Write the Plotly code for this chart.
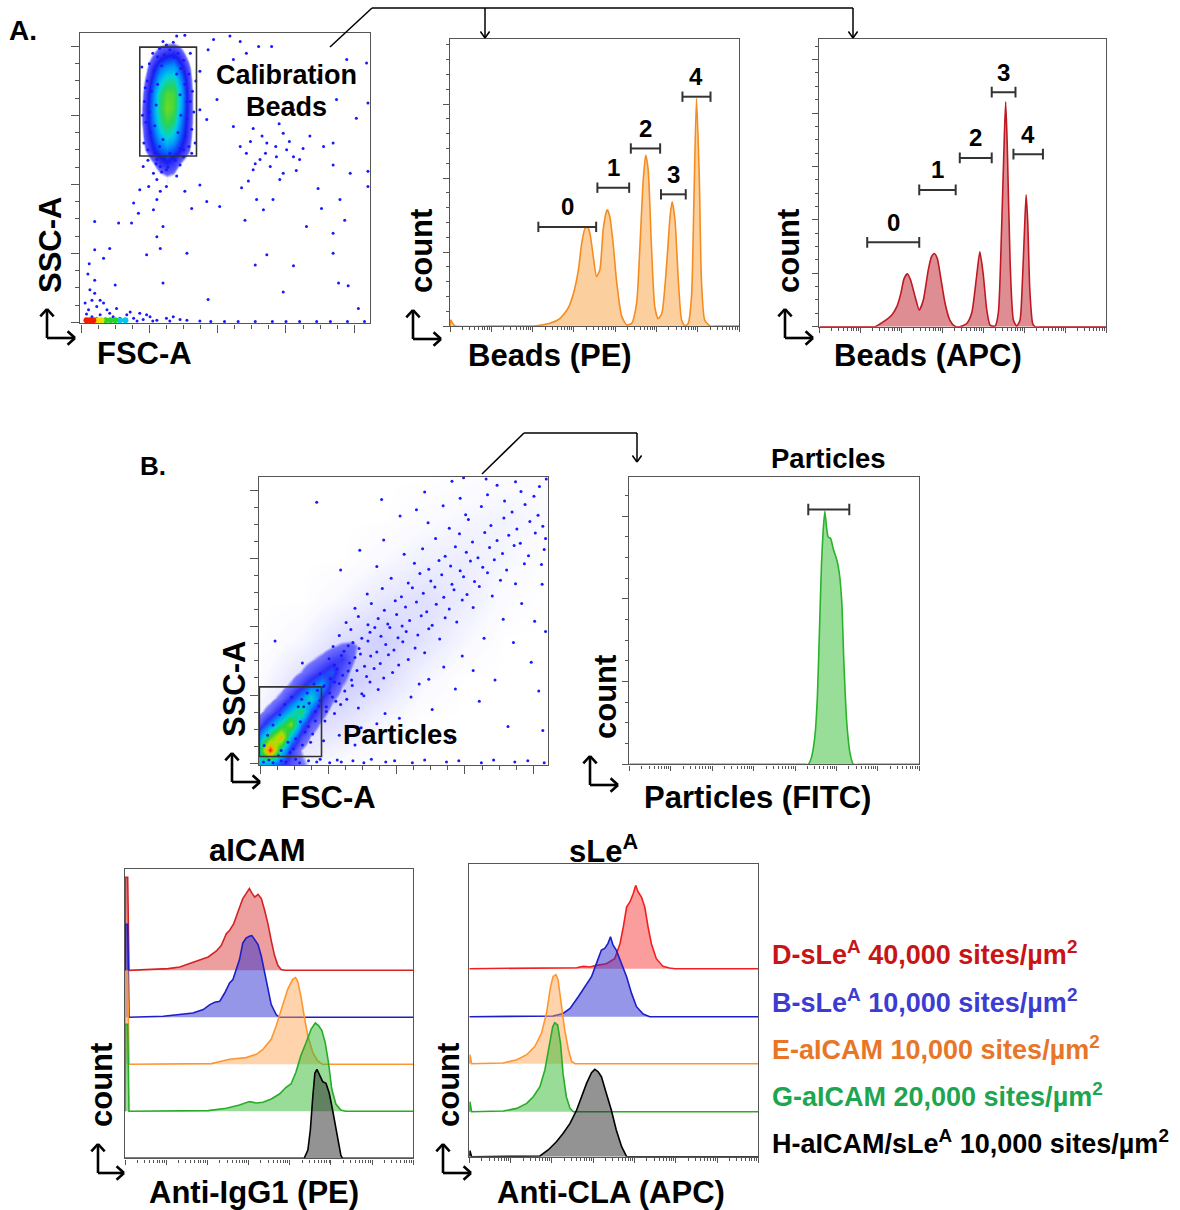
import math
import plotly.graph_objects as go

W, H = 1180, 1210
FONT = "Liberation Sans, Arial, sans-serif"

# ======================= DATA =======================
# --- Panel A dot plot: FSC-A vs SSC-A (axis units of 50K) ---
a_dots = [(1.20,4.07),(1.40,4.15),(1.52,4.16),(1.94,4.10),(2.18,4.15),(2.33,4.07),(2.60,4.00),(2.79,4.00),
          (1.86,3.95),(2.42,3.90),(2.23,3.81),(2.57,3.71),(2.03,3.66),(1.74,3.64),(3.89,3.81),(4.18,3.76),
          (4.20,3.18),(3.47,3.52),(3.74,3.23),(3.11,3.08),(4.03,2.96),(1.99,3.23),(1.74,3.08),(1.84,2.94),
          (2.23,2.84),(2.52,2.81),(2.96,2.74),(2.72,2.60),(2.33,2.55),(2.42,2.45),(3.01,2.50),(3.11,2.40),
          (3.20,2.36),(2.86,2.40),(2.62,2.36),(2.77,2.26),(2.96,2.16),(2.91,2.07),(2.52,2.21),(3.69,2.60),
          (3.55,2.55),(3.69,2.28),(3.94,2.16),(4.20,2.19),(4.20,1.97),(3.47,1.94),(3.79,1.78),(3.52,1.65),
          (2.57,1.78),(2.81,1.78),(2.67,1.63),(2.03,1.68),(1.62,1.65),(1.84,1.75),(1.52,1.90),(1.74,1.99),
          (1.25,1.97),(0.86,1.92),(0.77,1.73),(1.06,1.63),(0.84,1.58),(0.55,1.44),(0.74,1.44),(0.20,1.46),
          (1.20,1.39),(1.11,1.24),(1.55,1.00),(0.96,0.98),(1.16,1.07),(0.20,1.05),(0.42,1.07),(0.33,0.93),
          (2.40,1.48),(3.30,1.39),(3.86,1.48),(3.69,1.29),(2.72,0.98),(3.69,1.00),(3.77,0.57),(3.91,0.53),
          (3.11,0.82),(2.55,0.83),(2.96,0.44),(1.20,0.57),(0.50,0.54),(0.20,0.61),(1.86,0.33),(4.06,0.20),
          (1.11,2.36),(1.16,2.26),(1.06,2.16),(1.11,2.07),(1.16,1.90),(1.11,1.78),(1.25,2.21),(0.91,2.26),
          (1.50,2.50),(0.99,1.97),(1.35,2.40),(2.65,2.70),(2.85,2.55),(3.05,2.62),(2.48,2.62),(2.70,2.45),
          (3.25,2.52),(2.55,2.30),(3.35,2.70),(2.90,2.88),(3.15,2.20),(2.45,2.05),(2.35,1.95),
          (0.13,0.47),(0.20,0.42),(0.28,0.32),(0.23,0.23),(0.33,0.28),(0.38,0.18),(0.42,0.13),(0.52,0.20),
          (0.67,0.11),(0.86,0.13),(1.01,0.08),(1.25,0.06),(1.55,0.03),(1.74,0.02),(0.16,0.32),(0.11,0.18),
          (0.28,0.11),(0.47,0.08),(0.57,0.06),(0.77,0.06),(0.91,0.04),(1.11,0.03),(1.35,0.08),(0.23,0.06),
          (0.35,0.04),(0.16,0.08),(0.72,0.15),(0.96,0.11),(0.06,0.28),(0.08,0.12),(0.10,0.70),(0.12,0.85),
          (1.90,0.01),(2.10,0.01),(2.30,0.01),(2.55,0.01),(2.80,0.01),(3.00,0.01),(3.20,0.01),(3.45,0.01),
          (3.65,0.01),(3.90,0.01),(4.15,0.01),(0.62,0.03),(0.82,0.02),(1.05,0.02),(1.30,0.02),(1.45,0.04)]
a_blob_dots = [(0.92,2.60),(0.95,2.90),(0.93,3.20),(0.97,3.50),(1.00,3.75),(1.05,3.90),(1.15,3.97),(1.30,3.95),
               (1.42,3.90),(1.50,3.80),(1.58,3.60),(1.63,3.35),(1.65,3.05),(1.62,2.80),(1.58,2.55),(1.50,2.40),
               (1.38,2.35),(1.22,2.37),(1.08,2.45),(0.98,2.50),(1.02,2.75),(1.00,3.05),(1.03,3.35),(1.07,3.65),
               (1.12,3.85),(1.22,3.88),(1.36,3.84),(1.46,3.68),(1.52,3.45),(1.55,3.20),(1.55,2.95),(1.52,2.70),
               (1.45,2.52),(1.30,2.45),(1.15,2.55),(1.08,2.85),(1.10,3.15),(1.12,3.45),(1.18,3.72),(1.40,3.60),
               (1.45,3.30),(1.46,3.00),(1.42,2.75),(1.20,2.65),(1.68,3.50),(0.90,3.00),(1.25,4.02),(1.60,3.90),
               (1.67,2.60),(1.10,2.30),(1.27,2.25),(1.45,2.28),(0.89,3.70),(0.94,3.40),(1.60,3.20),(1.35,4.06),
               (1.18,2.18),(1.40,2.12),(0.98,2.35),(1.62,2.45)]
# bead-cluster event density (rows: SSC values, columns: FSC values)
a_den_x = [0.85, 0.95, 1.05, 1.15, 1.25, 1.35, 1.45, 1.55, 1.65, 1.75]
a_den_y = [2.1, 2.3, 2.5, 2.7, 2.9, 3.1, 3.3, 3.5, 3.7, 3.9, 4.1]
a_den_z = [[0, 0, 0, 0.3, 0.5, 0.4, 0, 0, 0, 0],
           [0, 0, 0.5, 1.0, 1.2, 1.0, 0.6, 0.2, 0, 0],
           [0, 0.6, 1.2, 1.6, 1.8, 1.6, 1.3, 0.8, 0.2, 0],
           [0, 0.9, 1.5, 2.2, 2.6, 2.3, 1.7, 1.1, 0.3, 0],
           [0.2, 1.0, 1.8, 2.7, 3.2, 2.9, 2.0, 1.2, 0.4, 0],
           [0.2, 1.0, 1.9, 2.9, 3.6, 3.3, 2.3, 1.3, 0.4, 0],
           [0.1, 0.9, 1.8, 2.8, 3.4, 3.3, 2.4, 1.3, 0.4, 0],
           [0, 0.7, 1.5, 2.3, 2.8, 2.8, 2.1, 1.2, 0.3, 0],
           [0, 0.4, 1.1, 1.7, 2.0, 2.1, 1.6, 0.9, 0.2, 0],
           [0, 0.1, 0.5, 0.9, 1.1, 1.2, 0.9, 0.4, 0, 0],
           [0, 0, 0, 0.2, 0.3, 0.3, 0.2, 0, 0, 0]]
a_deb_red = [(0.08,0.03),(0.13,0.03),(0.18,0.03)]
a_deb_yellow = [(0.24,0.03),(0.30,0.03)]
a_deb_green = [(0.36,0.03),(0.43,0.03),(0.50,0.03)]
a_deb_cyan = [(0.57,0.03),(0.65,0.03)]
a_gate_x = [0.86, 1.69]
a_gate_y = [2.41, 3.99]

# --- Panel A histograms (x: log10 fluorescence) ---
pe_u = [0, 0.02, 0.06, 0.12, 1.0, 1.9, 2.02, 2.42, 2.66, 2.86, 2.99, 3.11, 3.19, 3.27, 3.33, 3.39, 3.47, 3.55,
        3.63, 3.71, 3.79, 3.81, 3.87, 3.95, 4.04, 4.16, 4.28, 4.40, 4.52, 4.60, 4.68, 4.74, 4.80, 4.88, 4.96,
        5.04, 5.13, 5.25, 5.33, 5.38, 5.45, 5.53, 5.61, 5.69, 5.77, 5.85, 5.91, 5.97, 6.04, 6.09, 6.17, 6.30,
        6.5, 7.0]
pe_c = [0, 8, 4, 0, 0, 0, 0, 3.6, 10, 24, 44, 76, 112, 132, 134, 125, 94, 67, 76, 130, 155, 157, 148, 112, 58,
        13, 1.4, 3.6, 31, 107, 197, 231, 211, 107, 26, 10, 17, 85, 148, 168, 143, 62, 8, 0, 3.6, 40, 175, 308,
        197, 62, 8, 0, 0, 0]
pe_gate_lo = [2.14, 3.57, 4.38, 5.11, 5.63]
pe_gate_hi = [3.54, 4.34, 5.09, 5.71, 6.31]
pe_gate_y = [134, 187, 240, 178, 310]

apc_u = [0, 1.2, 1.36, 1.56, 1.77, 1.89, 1.99, 2.07, 2.15, 2.23, 2.34, 2.44, 2.54, 2.66, 2.74, 2.81, 2.88,
         2.96, 3.07, 3.19, 3.31, 3.43, 3.60, 3.72, 3.84, 3.92, 4.00, 4.09, 4.17, 4.29, 4.37, 4.45, 4.51, 4.55,
         4.59, 4.66, 4.74, 4.82, 4.90, 4.96, 5.01, 5.05, 5.09, 5.14, 5.21, 5.27, 5.5, 7.0]
apc_c = [0, 0, 0, 9, 22, 37, 62, 90, 99, 87, 56, 31, 50, 106, 131, 137, 128, 94, 44, 12, 1, 0, 6, 25, 94, 140,
         100, 31, 3, 1, 25, 181, 337, 421, 337, 119, 12, 1, 12, 87, 181, 247, 194, 69, 6, 0, 0, 0]
apc_gate_lo = [1.17, 2.44, 3.43, 4.21, 4.74]
apc_gate_hi = [2.44, 3.33, 4.21, 4.79, 5.46]
apc_gate_y = [158, 256, 316, 439, 323]
gate_names = ["0", "1", "2", "3", "4"]

# --- Panel B dot plot ---
b_dots = [(0.97,0.83),(1.06,0.97),(1.18,0.86),(1.27,0.94),(1.44,0.81),(1.52,0.99),(1.11,0.91),
          (0.93,1.12),(1.02,1.03),(1.16,1.17),(1.24,1.06),(1.35,1.14),(1.49,1.02),(1.61,1.19),(1.73,1.08),(1.09,1.19),
          (0.88,1.31),(1.03,1.24),(1.13,1.38),(1.21,1.29),(1.34,1.22),(1.42,1.36),(1.56,1.27),(1.67,1.39),
          (1.81,1.25),(1.94,1.33),(1.29,1.35),
          (1.01,1.53),(1.09,1.44),(1.19,1.58),(1.31,1.47),(1.39,1.55),(1.53,1.42),(1.62,1.57),(1.76,1.46),
          (1.88,1.59),(2.03,1.44),(2.17,1.52),(1.47,1.60),
          (1.07,1.71),(1.23,1.64),(1.36,1.77),(1.45,1.68),(1.58,1.79),(1.71,1.63),(1.84,1.74),(1.96,1.66),
          (2.09,1.78),(2.27,1.69),(2.41,1.62),(1.29,1.72),
          (1.16,1.87),(1.33,1.96),(1.49,1.83),(1.61,1.92),(1.77,1.86),(1.90,1.99),(2.02,1.84),(2.14,1.93),
          (2.31,1.88),(2.47,1.97),(2.63,1.82),(1.68,1.99),
          (1.26,2.06),(1.44,2.15),(1.58,2.03),(1.73,2.12),(1.87,2.04),(2.00,2.18),(2.19,2.09),(2.36,2.16),
          (2.52,2.02),(2.71,2.13),(2.88,2.07),(2.08,2.01),
          (1.39,2.27),(1.63,2.34),(1.82,2.24),(1.98,2.38),(2.13,2.29),(2.29,2.36),(2.44,2.22),(2.58,2.33),
          (2.77,2.26),(2.96,2.39),(3.12,2.28),
          (1.57,2.48),(1.79,2.56),(2.07,2.44),(2.23,2.57),(2.39,2.49),(2.56,2.58),(2.69,2.43),(2.84,2.54),
          (3.03,2.47),(3.21,2.59),(3.40,2.45),
          (1.92,2.71),(2.17,2.64),(2.34,2.78),(2.50,2.67),(2.66,2.76),(2.81,2.62),(2.98,2.73),(3.14,2.66),
          (3.33,2.79),(3.52,2.68),(3.74,2.63),
          (1.71,2.88),(2.26,2.93),(2.47,2.84),(2.62,2.97),(2.79,2.89),(2.93,2.82),(3.08,2.96),(3.26,2.87),
          (3.43,2.98),(3.61,2.83),(3.87,2.92),(4.12,2.91),
          (2.11,3.06),(2.38,3.14),(2.71,3.03),(2.86,3.17),(3.02,3.09),(3.19,3.01),(3.36,3.16),(3.55,3.07),
          (3.72,3.19),(3.93,3.04),(4.16,3.13),
          (1.81,3.27),(2.57,3.29),(2.92,3.36),(3.11,3.24),(3.29,3.38),(3.47,3.26),(3.64,3.34),(3.81,3.22),
          (4.03,3.37),(4.18,3.29),
          (2.46,3.52),(2.77,3.44),(3.05,3.57),(3.38,3.48),(3.57,3.59),(3.76,3.43),(3.95,3.54),(4.14,3.47),
          (2.05,3.62),(2.29,3.71),(2.68,3.77),(3.01,3.64),(3.24,3.76),(3.69,3.68),(3.88,3.79),(4.07,3.63),
          (0.83,3.82),(1.78,3.86),(2.41,3.97),(2.93,3.88),(3.33,3.93),(3.58,3.84),(3.82,3.98),(4.01,3.91),
          (2.81,4.13),(2.98,4.18),(3.31,4.16),(3.47,4.07),(3.74,4.12),(4.09,4.05),(4.19,4.16),
          (1.48,0.52),(1.83,0.73),(2.21,0.97),(2.47,1.23),(2.69,1.41),(2.96,1.57),(3.28,1.83),(3.56,2.11),
          (3.83,2.34),(4.13,2.62),(4.18,1.93),(3.97,1.48),(3.44,1.22),(3.21,0.91),(2.52,0.79),(4.08,1.06),
          (2.04,0.66),(1.71,0.58),(3.63,0.54),(4.14,0.48),(2.78,0.37),(1.39,0.27),(1.16,0.41),(0.93,0.33),
          (2.33,1.16),(2.86,1.09),(3.12,1.36),(3.71,1.77),(4.02,2.08),
          (0.22,1.79),(0.62,1.47),(1.18,2.83),(1.46,3.12),
          (0.95,0.62),(0.77,0.43),(0.97,0.76),(0.88,0.92),(0.84,1.07),(0.79,1.16),(0.69,1.03),(0.61,0.94),
          (0.56,0.83),(0.94,1.14),(1.09,0.73),(0.74,0.31),(0.62,0.27),(0.49,0.21),(0.11,0.41),(0.19,0.56),
          (0.29,0.71),(0.36,0.86),(0.46,0.97),(0.59,0.61),(0.71,0.54),(0.81,0.62),(0.06,0.26),(0.41,0.31),
          (0.52,0.36),(0.31,0.19),(0.66,0.46),(0.27,0.11),(0.44,0.16),(0.72,0.88),(0.86,0.84),(0.81,0.76),
          (0.64,0.83),
          (0.05,0.02),(0.13,0.05),(0.19,0.01),(0.31,0.04),(0.38,0.02),(0.52,0.06),(0.58,0.01),(0.71,0.04),
          (0.83,0.02),(0.88,0.06),(1.02,0.01),(1.13,0.05),(1.19,0.02),(1.36,0.04),(1.52,0.01),(1.63,0.06),
          (1.84,0.02),(1.97,0.04),(2.23,0.01),(2.41,0.05),(2.73,0.02),(2.91,0.04),(3.24,0.01),(3.42,0.05),
          (3.73,0.02),(3.92,0.04),(4.16,0.01)]
# diffuse particle-cloud density (coarse)
b_haze_x = [0, 0.6, 1.2, 1.8, 2.4, 3.0, 3.6, 4.2]
b_haze_y = [0, 0.6, 1.2, 1.8, 2.4, 3.0, 3.6, 4.2]
b_haze_z = [[0.3, 0.3, 0.1, 0, 0, 0, 0, 0],
            [0.3, 0.7, 0.5, 0.2, 0, 0, 0, 0],
            [0.1, 0.6, 0.9, 0.6, 0.2, 0, 0, 0],
            [0, 0.2, 0.6, 0.8, 0.5, 0.2, 0, 0],
            [0, 0, 0.2, 0.45, 0.55, 0.35, 0.1, 0],
            [0, 0, 0, 0.15, 0.3, 0.35, 0.2, 0.05],
            [0, 0, 0, 0, 0.1, 0.2, 0.25, 0.15],
            [0, 0, 0, 0, 0, 0.05, 0.1, 0.1]]
# particle core density (rows: SSC values, columns: FSC values)
b_den_x = [0, 0.15, 0.3, 0.45, 0.6, 0.75, 0.9, 1.05, 1.2, 1.35, 1.5, 1.65, 1.8]
b_den_y = [0, 0.19, 0.38, 0.57, 0.76, 0.95, 1.14, 1.33, 1.52, 1.71, 1.9, 2.09, 2.28]
b_den_z = [[2.0, 1.8, 1.2, 0.7, 0.4, 0.2, 0, 0, 0, 0, 0, 0, 0],
           [2.6, 5.0, 2.3, 0.9, 0.3, 0, 0, 0, 0, 0, 0, 0, 0],
           [1.75, 3.0, 4.2, 1.9, 0.75, 0.25, 0, 0, 0, 0, 0, 0, 0],
           [0.7, 1.5, 2.5, 3.4, 1.55, 0.6, 0.2, 0, 0, 0, 0, 0, 0],
           [0.2, 0.55, 1.2, 2.0, 2.8, 1.3, 0.5, 0.15, 0, 0, 0, 0, 0],
           [0, 0.15, 0.45, 1.0, 1.65, 2.3, 1.0, 0.4, 0.13, 0, 0, 0, 0],
           [0, 0, 0.14, 0.38, 0.8, 1.33, 1.8, 0.8, 0.31, 0.1, 0, 0, 0],
           [0, 0, 0, 0.12, 0.31, 0.63, 1.0, 1.3, 0.55, 0.2, 0, 0, 0],
           [0, 0, 0, 0, 0.09, 0.24, 0.45, 0.75, 0.9, 0.4, 0, 0, 0],
           [0, 0, 0, 0, 0, 0, 0.1, 0.25, 0.4, 0.45, 0.15, 0, 0],
           [0, 0, 0, 0, 0, 0, 0, 0, 0, 0, 0, 0, 0],
           [0, 0, 0, 0, 0, 0, 0, 0, 0, 0, 0, 0, 0],
           [0, 0, 0, 0, 0, 0, 0, 0, 0, 0, 0, 0, 0]]
b_gate_x = [-0.01, 0.90]
b_gate_y = [0.10, 1.12]

# --- Panel B FITC histogram ---
fitc_u = [0, 4.2, 4.32, 4.40, 4.48, 4.54, 4.59, 4.64, 4.68, 4.72, 4.76, 4.80, 4.86, 4.92, 5.01, 5.07, 5.13,
          5.18, 5.25, 5.33, 5.41, 5.55, 7.0]
fitc_c = [0, 0, 0, 9, 34, 82, 162, 243, 283, 306, 287, 275, 273, 261, 247, 231, 195, 122, 50, 13, 0, 0, 0]
fitc_gate = [4.32, 5.31, 308]

# --- Offset overlays: aICAM (Anti-IgG1 PE) ---
ai_red_u = [0, 0.016, 0.065, 0.097, 1.05, 1.33, 1.57, 1.81, 2.02, 2.22, 2.34, 2.46, 2.54, 2.64, 2.74, 2.86,
            2.94, 3.02, 3.09, 3.15, 3.23, 3.31, 3.39, 3.47, 3.55, 3.63, 3.71, 3.79, 3.87, 7.0]
ai_red_c = [0, 93, 93, 0, 1.7, 3.3, 6.7, 10, 13.3, 19.3, 25, 36.7, 40, 46.7, 58.3, 71.7, 76.7, 81.7, 76.7,
            73.3, 76, 71.7, 60, 46.7, 30, 15, 5, 0.7, 0, 0]
ai_blue_u = [0, 0.016, 0.065, 0.097, 0.93, 1.33, 1.65, 1.90, 2.06, 2.18, 2.30, 2.42, 2.54, 2.62, 2.70, 2.78,
             2.86, 2.94, 3.02, 3.08, 3.15, 3.23, 3.31, 3.39, 3.47, 3.55, 3.67, 3.75, 7.0]
ai_blue_c = [0, 93, 93, 0, 1, 2.7, 4.3, 7.7, 12.7, 15, 16, 24.3, 34.3, 37.7, 47.7, 57.7, 74.3, 79.3, 81, 81.7,
             77.7, 72.7, 61, 44.3, 27.7, 12.7, 2.7, 0, 0]
ai_orange_u = [0, 0.016, 0.065, 0.097, 2.10, 2.54, 2.94, 3.19, 3.35, 3.47, 3.55, 3.67, 3.75, 3.87, 3.95, 4.07,
               4.14, 4.19, 4.27, 4.35, 4.44, 4.56, 4.68, 4.80, 7.0]
ai_orange_c = [0, 93, 93, 0, 0.7, 5, 6.7, 10, 15, 21.7, 25, 38.3, 48.3, 65, 75, 85, 86.7, 83.3, 68.3, 48.3,
               28.3, 11.7, 3.3, 0, 0]
ai_green_u = [0, 0.016, 0.065, 0.097, 2.02, 2.46, 2.78, 3.02, 3.19, 3.35, 3.55, 3.75, 3.91, 4.03, 4.15, 4.27,
              4.40, 4.52, 4.62, 4.70, 4.78, 4.86, 4.94, 5.02, 5.12, 5.24, 5.36, 7.0]
ai_green_c = [0, 87, 87, 0, 0.7, 3, 6.3, 9.7, 8.3, 9, 12.3, 17.3, 24, 27.3, 39, 55.7, 69, 82.3, 88.3, 85.7,
              80.7, 69, 49, 22.3, 7.3, 1.3, 0, 0]
ai_black_u = [0, 4.35, 4.44, 4.50, 4.56, 4.61, 4.66, 4.72, 4.80, 4.88, 4.96, 5.04, 5.12, 5.19, 5.24, 5.28, 7.0]
ai_black_c = [0, 0, 8.3, 28.3, 61.7, 85, 89, 83.3, 76.7, 75, 65, 48.3, 31.7, 15, 3.3, 0, 0]
ai_offsets = [188, 141, 94, 47, 0]

# --- Offset overlays: sLeA (Anti-CLA APC) ---
sl_red_u = [0, 2.31, 2.60, 2.76, 2.92, 3.08, 3.32, 3.52, 3.65, 3.73, 3.81, 3.89, 3.97, 4.03, 4.09, 4.17, 4.25,
            4.33, 4.41, 4.53, 4.69, 4.85, 4.98, 7.0]
sl_red_c = [0, 0.7, 1, 2.3, 1.7, 3.3, 5, 10, 25, 41.7, 61.7, 66.7, 75, 83.3, 76.7, 71.7, 61.7, 41.7, 25, 10,
            2.3, 0.7, 0, 0]
sl_blue_u = [0, 2.03, 2.27, 2.44, 2.64, 2.80, 2.96, 3.08, 3.20, 3.28, 3.36, 3.42, 3.48, 3.56, 3.69, 3.81, 3.93,
             4.05, 4.21, 4.37, 7.0]
sl_blue_c = [0, 0.7, 3.3, 8.3, 20, 30, 40, 53.3, 66.7, 68.3, 73.3, 80, 71.7, 66.7, 53.3, 40, 23.3, 10, 2.7, 0, 0]
sl_orange_u = [0, 0.016, 0.056, 0.82, 1.15, 1.39, 1.59, 1.75, 1.87, 1.97, 2.03, 2.10, 2.15, 2.23, 2.31, 2.40,
               2.48, 2.56, 7.0]
sl_orange_c = [0, 9, 0, 0.7, 4, 9, 17.3, 30.7, 50.7, 77.3, 87.3, 89, 84, 60.7, 34, 14, 2.3, 0, 0]
sl_green_u = [0, 0.016, 0.056, 0.82, 1.15, 1.39, 1.55, 1.71, 1.83, 1.94, 2.02, 2.07, 2.14, 2.21, 2.27, 2.35,
              2.44, 2.52, 7.0]
sl_green_c = [0, 10, 0, 0.7, 3.3, 8.3, 15, 25, 41.7, 65, 85, 89, 86.7, 68.3, 38.3, 15, 3.3, 0, 0]
sl_black_u = [0, 0.016, 0.056, 1.71, 1.91, 2.11, 2.27, 2.44, 2.60, 2.72, 2.84, 2.96, 3.04, 3.12, 3.20, 3.32,
              3.44, 3.56, 3.69, 3.81, 7.0]
sl_black_c = [0, 6, 0, 0.7, 6.7, 15, 23.3, 33.3, 46.7, 60, 73.3, 84, 87.3, 85, 80, 63.3, 46.7, 26.7, 10, 0, 0]
sl_offsets = [188, 140, 93, 45, 0]

legend_labels = ["D-sLe<sup>A</sup> 40,000 sites/µm<sup>2</sup>",
                 "B-sLe<sup>A</sup> 10,000 sites/µm<sup>2</sup>",
                 "E-aICAM 10,000 sites/µm<sup>2</sup>",
                 "G-aICAM 20,000 sites/µm<sup>2</sup>",
                 "H-aICAM/sLe<sup>A</sup> 10,000 sites/µm<sup>2</sup>"]

# ======================= STYLE =======================
LINE = "#555555"
C_RED, C_BLUE, C_ORANGE, C_GREEN, C_BLACK = "rgb(212,35,35)", "rgb(30,30,200)", "rgb(255,150,50)", "rgb(40,172,40)", "rgb(0,0,0)"
F_RED, F_BLUE, F_ORANGE, F_GREEN, F_BLACK = ("rgba(215,40,40,0.45)", "rgba(45,45,210,0.5)",
                                            "rgba(255,160,70,0.45)", "rgba(50,185,50,0.5)", "rgba(40,40,40,0.5)")
LEG_COLORS = ["rgb(200,20,20)", "rgb(60,60,210)", "rgb(232,118,38)", "rgb(30,165,80)", "rgb(0,0,0)"]
DOT = "rgb(25,25,255)"

fig = go.Figure()
layout = dict(width=W, height=H, margin=dict(l=0, r=0, t=0, b=0), paper_bgcolor="white",
              plot_bgcolor="white", showlegend=False)

log_major = list(range(0, 8))
log_minor = [d + math.log10(k) for d in range(7) for k in range(2, 10)]


def add_axes(n, box, xr, yr, xt, xmt, yt, ymt, xlen=(5, 3), ylen=(6, 3)):
    l, t, r, b = box
    common = dict(showline=True, linecolor=LINE, linewidth=1.4, mirror=True, showgrid=False,
                  zeroline=False, showticklabels=False, tickcolor=LINE, tickwidth=1.2)
    xa = dict(common, domain=[l / W, r / W], range=xr, anchor="y%d" % n,
              tickmode="array", tickvals=xt, ticks="outside", ticklen=xlen[0],
              minor=dict(tickmode="array", tickvals=xmt, ticks="outside", ticklen=xlen[1],
                         tickcolor=LINE, tickwidth=1))
    ya = dict(common, domain=[1 - b / H, 1 - t / H], range=yr, anchor="x%d" % n)
    if yt is None:
        ya.update(ticks="")
    else:
        ya.update(tickmode="array", tickvals=yt, ticks="outside", ticklen=ylen[0],
                  minor=dict(tickmode="array", tickvals=ymt, ticks="outside", ticklen=ylen[1],
                             tickcolor=LINE, tickwidth=1))
    sfx = "" if n == 1 else str(n)
    layout["xaxis" + sfx] = xa
    layout["yaxis" + sfx] = ya


lin_major = [0, 1, 2, 3, 4]
lin_minor = [i * 0.25 for i in range(17)]

add_axes(1, (80, 33.3, 370, 323.3), [-0.015, 4.23], [-0.015, 4.19], lin_major, lin_minor,
         lin_major, lin_minor, xlen=(8, 4), ylen=(8, 4))
add_axes(2, (450, 39, 739, 326), [0, 7], [0, 388], log_major, log_minor,
         [0, 100, 200, 300], list(range(0, 400, 20)))
add_axes(3, (819.3, 39.3, 1106, 326.7), [0, 7], [0, 538], log_major, log_minor,
         [0, 100, 200, 300, 400, 500], list(range(0, 550, 25)))
add_axes(4, (259, 476.7, 548.3, 765), [-0.015, 4.22], [-0.024, 4.195], lin_major, lin_minor,
         lin_major, lin_minor, xlen=(8, 4), ylen=(8, 4))
add_axes(5, (629.3, 477.3, 919.3, 764.3), [0, 7], [0, 347], log_major, log_minor,
         [0, 100, 200, 300], list(range(0, 350, 25)))
add_axes(6, (125, 869.3, 413.3, 1158.3), [0, 7], [0, 289], log_major, log_minor, None, None)
add_axes(7, (469.3, 864.3, 758.3, 1156.7), [0, 7], [0, 292.4], log_major, log_minor, None, None)


def dots(pts, ax, color, size, opacity=1.0):
    xs, ys = zip(*pts)
    fig.add_trace(go.Scatter(x=list(xs), y=list(ys), mode="markers", xaxis="x" + ax, yaxis="y" + ax,
                             marker=dict(color=color, size=size, opacity=opacity, line=dict(width=0)),
                             hoverinfo="skip"))


def density(xs, ys, z, ax, zmax, scale):
    fig.add_trace(go.Heatmap(x=xs, y=ys, z=z, xaxis="x" + ax, yaxis="y" + ax, zmin=0, zmax=zmax,
                             colorscale=scale, zsmooth="best", showscale=False, hoverinfo="skip"))


scale_a = [[0, "rgba(255,255,255,0)"], [0.12, "rgba(40,40,255,0)"], [0.16, "rgba(40,40,255,0.75)"],
           [0.32, "rgb(25,25,240)"], [0.48, "rgb(0,140,255)"], [0.62, "rgb(0,210,225)"],
           [0.76, "rgb(40,210,90)"], [0.9, "rgb(110,220,30)"], [1, "rgb(210,235,0)"]]
scale_b = [[0, "rgba(255,255,255,0)"], [0.05, "rgba(40,40,255,0)"], [0.07, "rgba(40,40,255,0.6)"],
           [0.2, "rgba(25,25,245,0.9)"], [0.33, "rgb(0,150,255)"], [0.45, "rgb(0,210,200)"],
           [0.58, "rgb(40,210,60)"], [0.72, "rgb(170,225,0)"], [0.85, "rgb(255,170,0)"], [1, "rgb(235,20,0)"]]
scale_haze = [[0, "rgba(60,60,255,0)"], [0.15, "rgba(60,60,255,0.03)"], [1, "rgba(50,50,255,0.30)"]]

# --- Panel A dot plot ---
density(a_den_x, a_den_y, a_den_z, "", 4, scale_a)
dots(a_dots, "", DOT, 3)
dots(a_blob_dots, "", DOT, 3)
dots(a_deb_cyan, "", "rgb(0,200,240)", 6)
dots(a_deb_green, "", "rgb(40,210,40)", 6)
dots(a_deb_yellow, "", "rgb(240,220,0)", 6)
dots(a_deb_red, "", "rgb(240,30,0)", 6)

# --- Panel B dot plot ---
density(b_haze_x, b_haze_y, b_haze_z, "4", 1, scale_haze)
density(b_den_x, b_den_y, b_den_z, "4", 5, scale_b)
dots(b_dots, "4", DOT, 3)

gate_line = dict(color="#333333", width=1.6)
shapes = []
shapes.append(dict(type="rect", xref="x", yref="y", x0=a_gate_x[0], x1=a_gate_x[1],
                   y0=a_gate_y[0], y1=a_gate_y[1], line=gate_line))
shapes.append(dict(type="rect", xref="x4", yref="y4", x0=b_gate_x[0], x1=b_gate_x[1],
                   y0=b_gate_y[0], y1=b_gate_y[1], line=gate_line))


def hist(u, c, ax, line, fill, offset=0, shape="linear"):
    fig.add_trace(go.Scatter(x=u, y=[offset + v for v in c], mode="lines", xaxis="x" + ax, yaxis="y" + ax,
                             line=dict(color=line, width=1.6, shape=shape, smoothing=0.6),
                             fill="toself", fillcolor=fill, hoverinfo="skip"))


def gates(lo, hi, gy, ax, cap):
    for a, b_, y in zip(lo, hi, gy):
        fig.add_trace(go.Scatter(x=[a, b_], y=[y, y], mode="lines", xaxis="x" + ax, yaxis="y" + ax,
                                 line=dict(color="#333333", width=2), hoverinfo="skip",
                                 error_y=dict(type="data", array=[cap, cap], color="#333333",
                                              thickness=2, width=0)))


hist(pe_u, pe_c, "2", "rgb(247,140,30)", "rgba(248,150,40,0.45)", shape="spline")
gates(pe_gate_lo, pe_gate_hi, pe_gate_y, "2", 7)
hist(apc_u, apc_c, "3", "rgb(190,25,35)", "rgba(190,30,40,0.5)", shape="spline")
gates(apc_gate_lo, apc_gate_hi, apc_gate_y, "3", 10)
hist(fitc_u, fitc_c, "5", "rgb(40,180,40)", "rgba(50,190,50,0.5)", shape="spline")
gates([fitc_gate[0]], [fitc_gate[1]], [fitc_gate[2]], "5", 7)

ai_curves = [(ai_red_u, ai_red_c, C_RED, F_RED), (ai_blue_u, ai_blue_c, C_BLUE, F_BLUE),
             (ai_orange_u, ai_orange_c, C_ORANGE, F_ORANGE), (ai_green_u, ai_green_c, C_GREEN, F_GREEN),
             (ai_black_u, ai_black_c, C_BLACK, F_BLACK)]
for (u, c, lc, fc), off in zip(ai_curves, ai_offsets):
    hist(u, c, "6", lc, fc, off)
sl_curves = [(sl_red_u, sl_red_c, "rgb(245,30,30)", "rgba(250,60,60,0.5)"), (sl_blue_u, sl_blue_c, C_BLUE, F_BLUE),
             (sl_orange_u, sl_orange_c, C_ORANGE, F_ORANGE), (sl_green_u, sl_green_c, C_GREEN, F_GREEN),
             (sl_black_u, sl_black_c, C_BLACK, F_BLACK)]
for (u, c, lc, fc), off in zip(sl_curves, sl_offsets):
    hist(u, c, "7", lc, fc, off)

# ======================= ANNOTATIONS =======================
ann = []


def text(s, x, y, size, color="black", angle=0, xanchor="center", yanchor="middle"):
    ann.append(dict(text="<b>%s</b>" % s, x=x / W, y=1 - y / H, xref="paper", yref="paper", showarrow=False,
                    font=dict(family=FONT, size=size, color=color), textangle=angle,
                    xanchor=xanchor, yanchor=yanchor))


def gate_labels(lo, hi, gy, ax):
    for name, a, b_, y in zip(gate_names, lo, hi, gy):
        ann.append(dict(text="<b>%s</b>" % name, x=(a + b_) / 2, y=y, xref="x" + ax, yref="y" + ax,
                        showarrow=False, yshift=20, font=dict(family=FONT, size=24, color="black")))


gate_labels(pe_gate_lo, pe_gate_hi, pe_gate_y, "2")
gate_labels(apc_gate_lo, apc_gate_hi, apc_gate_y, "3")

AX = 31
text("A.", 23, 30, 28)
text("B.", 153, 466, 26)
text("Calibration", 286, 75, 27)
text("Beads", 286, 107, 27)
text("SSC-A", 50, 245, AX, angle=-90)
text("FSC-A", 144, 353, AX)
text("count", 422, 251, AX, angle=-90)
text("Beads (PE)", 550, 355, AX)
text("count", 789, 251, AX, angle=-90)
text("Beads (APC)", 928, 355, AX)
text("SSC-A", 234, 689, AX, angle=-90)
text("FSC-A", 328, 797, AX)
text("Particles", 400, 734, 27.5)
text("Particles", 828, 458, 27.5)
text("count", 605, 697, AX, angle=-90)
text("Particles (FITC)", 757, 797, AX)
text("aICAM", 257, 850, 31)
text("sLe<sup>A</sup>", 603, 849, 31)
text("count", 101, 1085, AX, angle=-90)
text("count", 448, 1085, AX, angle=-90)
text("Anti-IgG1 (PE)", 254, 1192, AX)
text("Anti-CLA (APC)", 611, 1192, AX)
for lab, col, yy in zip(legend_labels, LEG_COLORS, [953, 1001, 1048, 1095, 1142]):
    text(lab, 770, yy, 27, color=col, xanchor="left")


# ======================= ARROWS / CONNECTORS =======================
def seg(x0, y0, x1, y1, w=1.8):
    shapes.append(dict(type="line", xref="paper", yref="paper", x0=x0 / W, y0=1 - y0 / H,
                       x1=x1 / W, y1=1 - y1 / H, line=dict(color="black", width=w)))


def arrow(x0, y0, x1, y1, head=8, w=1.8, spread=35):
    seg(x0, y0, x1, y1, w)
    ang = math.atan2(y1 - y0, x1 - x0)
    for s in (1, -1):
        a = ang + math.pi + s * math.radians(spread)
        seg(x1, y1, x1 + head * math.cos(a), y1 + head * math.sin(a), w)


def corner(cx, cy, up=29, right=28):
    arrow(cx, cy, cx, cy - up, head=10, w=2.6, spread=42)
    arrow(cx, cy, cx + right, cy, head=10, w=2.6, spread=42)


seg(330, 47, 372, 8, 1.5)
seg(372, 8, 853, 8, 1.5)
arrow(485, 8, 485, 38, w=1.5)
arrow(853, 8, 853, 38, w=1.5)
seg(482, 474, 524, 433, 1.5)
seg(524, 433, 637, 433, 1.5)
arrow(637, 433, 637, 462, w=1.5)

corner(47, 338)
corner(413, 339)
corner(785, 338)
corner(232, 782)
corner(590, 785)
corner(98, 1173, right=26)
corner(443, 1173)

layout["annotations"] = ann
layout["shapes"] = shapes
fig.update_layout(**layout)
fig.write_html("out.html")
